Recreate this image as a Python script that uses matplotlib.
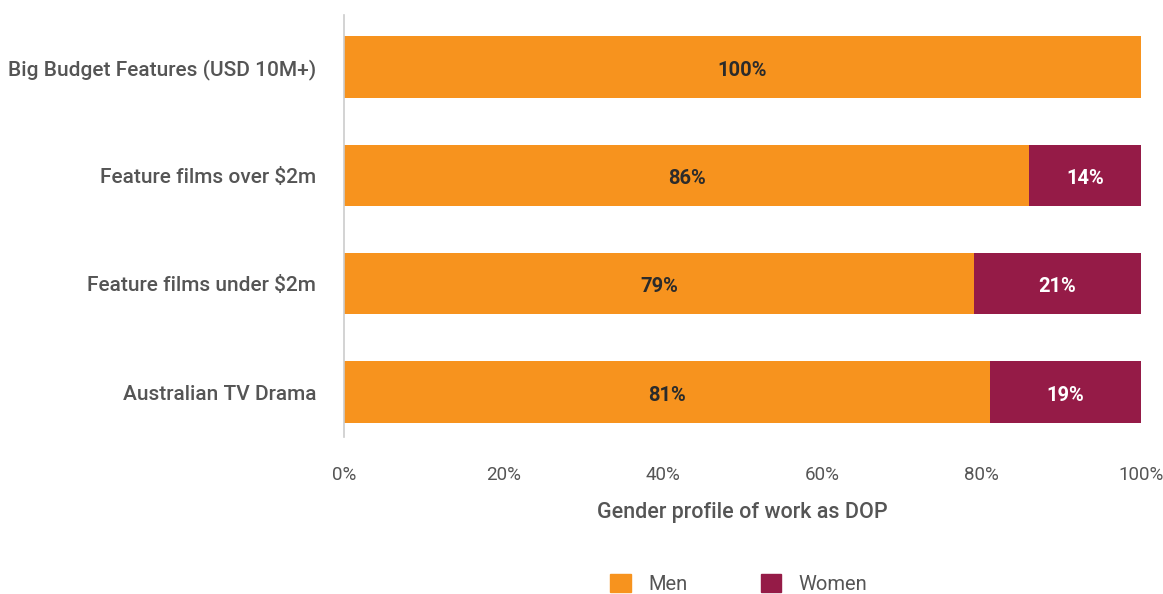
import matplotlib
matplotlib.use("Agg")
import matplotlib.pyplot as plt
from matplotlib.patches import Patch

categories = ["Big Budget Features (USD 10M+)", "Feature films over $2m",
              "Feature films under $2m", "Australian TV Drama"]
men = [100, 86, 79, 81]
women = [0, 14, 21, 19]
ticks = [0, 20, 40, 60, 80, 100]

ORANGE = "#F7931E"
MAROON = "#951B47"
GREY = "#555555"

plt.rcParams["font.family"] = ["Roboto", "DejaVu Sans"]

fig = plt.figure(figsize=(11.63, 5.94), dpi=100)
ax = fig.add_axes([344 / 1163, 1 - 437 / 594, (1141 - 344) / 1163, (437 - 15) / 594])

y = list(range(len(categories)))
h = 0.565
ax.barh(y, men, height=h, color=ORANGE)
ax.barh(y, women, left=men, height=h, color=MAROON)

for yi, m, w in zip(y, men, women):
    if m > 0:
        ax.text(m / 2, yi + 0.03, f"{m}%", ha="center", va="center",
                fontsize=14.5, fontweight="bold", color="#2b2b2b")
    if w > 0:
        ax.text(m + w / 2, yi + 0.03, f"{w}%", ha="center", va="center",
                fontsize=14.5, fontweight="bold", color="white")

ax.set_xlim(0, 100)
ax.set_ylim(3 + 0.415, -0.48)
ax.set_yticks(y)
ax.set_yticklabels(categories, fontsize=15, color=GREY, fontweight="medium")
ax.set_xticks(ticks)
ax.set_xticklabels([f"{t}%" for t in ticks], fontsize=13.5, color=GREY)
ax.tick_params(axis="both", length=0)
ax.tick_params(axis="y", pad=20)
ax.tick_params(axis="x", pad=21)
ax.set_xlabel("Gender profile of work as DOP", fontsize=15.5, color=GREY,
              fontweight="medium", labelpad=13)

for side in ["top", "right", "bottom"]:
    ax.spines[side].set_visible(False)
ax.spines["left"].set_color("#cccccc")
ax.spines["left"].set_linewidth(1.2)

handles = [Patch(color=ORANGE, label="Men"), Patch(color=MAROON, label="Women")]
fig.legend(handles=handles, loc="center", bbox_to_anchor=(739 / 1163, 1 - 584 / 594),
           ncol=2, frameon=False, fontsize=14.5, handlelength=1.0, handleheight=1.0,
           columnspacing=3.6, handletextpad=0.9, labelcolor=GREY)

fig.savefig("out.png", dpi=100, facecolor="white")
